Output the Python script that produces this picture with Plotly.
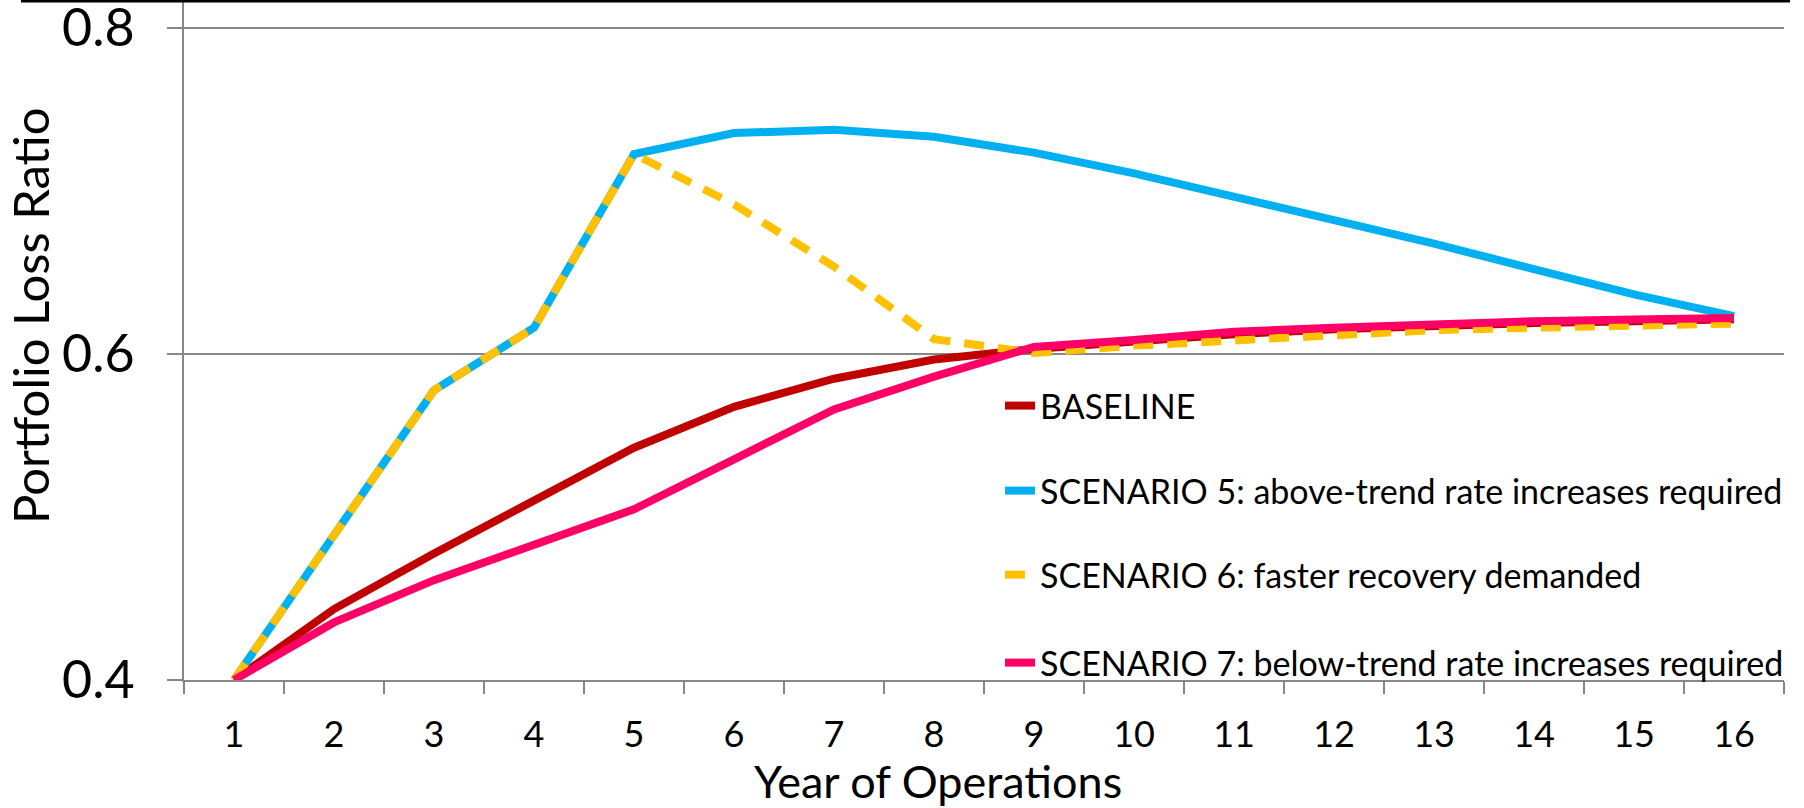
import plotly.graph_objects as go

years = [str(i) for i in range(1, 17)]
baseline = [0.400, 0.4435, 0.4776, 0.5106, 0.5424, 0.5675, 0.5847, 0.5965,
            0.6030, 0.6075, 0.6120, 0.6150, 0.6172, 0.6188, 0.6200, 0.6212]
scen5 = [0.400, 0.4887, 0.5776, 0.6160, 0.7224, 0.7353, 0.7374, 0.7331,
         0.7233, 0.7106, 0.6967, 0.6820, 0.6675, 0.6517, 0.6364, 0.6231]
scen6 = [0.400, 0.4887, 0.5776, 0.6160, 0.7224, 0.6916, 0.6535, 0.6090,
         0.6005, 0.6050, 0.6085, 0.6120, 0.6145, 0.6160, 0.6172, 0.6185]
scen7 = [0.400, 0.4353, 0.4612, 0.4824, 0.5047, 0.5353, 0.5659, 0.5860,
         0.6042, 0.6085, 0.6135, 0.6160, 0.6185, 0.6200, 0.6210, 0.6220]

names = ["BASELINE",
         "SCENARIO 5: above-trend rate increases required",
         "SCENARIO 6: faster recovery demanded",
         "SCENARIO 7: below-trend rate increases required"]
colors = ["#C00000", "#00B0F0", "#FFC000", "#FF0066"]
dashes = ["solid", "solid", "20px,14px", "solid"]
series = [baseline, scen5, scen6, scen7]
legend_ids = ["legend", "legend2", "legend3", "legend4"]
legend_y = [406, 491, 575, 663]  # pixel centres

FONT = "Lato"
W, H = 1804, 808
ML, MR, MT, MB = 184, 20, 0, 128
PW, PH = W - ML - MR, H - MT - MB

fig = go.Figure()
for name, vals, col, dash, lid in zip(names, series, colors, dashes, legend_ids):
    fig.add_trace(go.Scatter(
        x=years, y=vals, mode="lines", name=name,
        line=dict(color=col, width=8, dash=dash),
        legend=lid,
    ))

lx = (1000 - ML) / PW
legends = {}
for lid, py in zip(legend_ids, legend_y):
    legends[lid] = dict(
        x=lx, xanchor="left", y=1 - (py - MT) / PH, yanchor="middle",
        font=dict(family=FONT, size=34, color="black"),
        bgcolor="rgba(0,0,0,0)", borderwidth=0,
    )

fig.update_layout(
    width=W, height=H,
    margin=dict(l=ML, r=MR, t=MT, b=MB, autoexpand=False),
    paper_bgcolor="white", plot_bgcolor="white",
    showlegend=True,
    xaxis=dict(
        type="category", tickson="boundaries", ticks="outside", ticklen=12,
        range=[-0.5, 15.5], automargin=False,
        tickwidth=2, tickcolor="#878787", showline=True, linecolor="#878787",
        linewidth=2, showgrid=False, zeroline=False,
        tickfont=dict(family=FONT, size=36, color="black"),
        ticklabelstandoff=22,
    ),
    yaxis=dict(
        range=[0.4, 0.8169], tickvals=[0.4, 0.6, 0.8], ticktext=["0.4", "0.6", "0.8"],
        automargin=False, ticklabeloverflow="allow",
        ticks="outside", ticklen=15, tickwidth=2, tickcolor="#878787",
        showline=True, linecolor="#878787", linewidth=2,
        showgrid=True, gridcolor="#878787", gridwidth=2, zeroline=False,
        tickfont=dict(family=FONT, size=52, color="black"),
        ticklabelstandoff=22,
    ),
    annotations=[
        dict(text="Year of Operations", xref="paper", yref="paper",
             x=(938 - ML) / PW, y=1 - (781 - MT) / PH, xanchor="center", yanchor="middle",
             showarrow=False, font=dict(family=FONT, size=45, color="black")),
        dict(text="Portfolio Loss Ratio", xref="paper", yref="paper",
             x=(30 - ML) / PW, y=1 - (316 - MT) / PH, xanchor="center", yanchor="middle",
             textangle=-90, showarrow=False, font=dict(family=FONT, size=49, color="black")),
    ],
    shapes=[
        dict(type="line", xref="paper", yref="paper",
             x0=(21 - ML) / PW, x1=(1790 - ML) / PW, y0=1 - 1 / PH, y1=1 - 1 / PH,
             line=dict(color="black", width=3)),
    ],
    **legends,
)

fig.write_html("out.html", config={"displayModeBar": False},
               post_script="document.body.style.margin='0px';")
